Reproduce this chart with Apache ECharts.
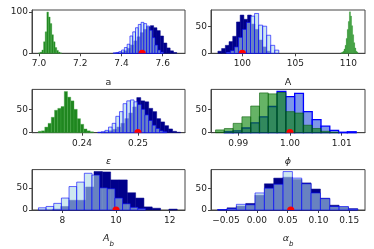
<!DOCTYPE html>
<html><head><meta charset="utf-8">
<script src="https://cdn.jsdelivr.net/npm/echarts@6/dist/echarts.min.js"></script>
<style>html,body{margin:0;padding:0;background:#fff}#c{width:374px;height:249px}</style>
</head><body><div id="c"></div>
<script>
// ---- data: histogram bins (start, width, counts) ----
const aGreenStart = 6.998, aGreenWidth = 0.008;
const aGreenCounts = [1,3,8,28,52,100,88,72,45,28,14,7,3,1];
const aNavyStart = 7.38, aNavyWidth = 0.016;
const aNavyCounts = [1,3,6,12,20,30,40,50,58,64,67,62,55,42,25,13,6,2];
const aLightStart = 7.36, aLightWidth = 0.0135;
const aLightCounts = [1,2,4,8,14,22,42,52,62,70,75,72,66,56,38,20,8,3];
const aTrue = 7.5;

const AGreenStart = 109.3, AGreenWidth = 0.1;
const AGreenCounts = [1,2,4,8,15,28,45,60,78,70,52,35,20,10,4,2];
const ANavyStart = 97.7, ANavyWidth = 0.35;
const ANavyCounts = [4,9,15,22,32,59,72,64,72,55,45,25,12,4];
const ALightStart = 98.5, ALightWidth = 0.38;
const ALightCounts = [2,5,12,30,45,58,70,75,53,51,34,15,6];
const ATrue = 100;

const epsGreenStart = 0.2322, epsGreenWidth = 0.00058;
const epsGreenCounts = [3,4,12,20,33,48,52,56,88,76,68,50,30,18,8,4,2];
const epsNavyStart = 0.2434, epsNavyWidth = 0.00071;
const epsNavyCounts = [1,2,4,7,12,20,30,42,55,75,68,66,52,45,30,23,15,8,3,1];
const epsLightStart = 0.2428, epsLightWidth = 0.00065;
const epsLightCounts = [1,2,5,12,20,35,45,62,68,70,66,60,50,38,26,16,9,4,2];
const epsTrue = 0.25;

const phiGreenStart = 0.9856, phiGreenWidth = 0.0017;
const phiGreenCounts = [6,9,20,34,57,85,83,86,45,42,16,9,3,1];
const phiBlueStart = 0.9873, phiBlueWidth = 0.0017;
const phiBlueCounts = [2,4,10,21,34,56,88,77,84,45,28,14,5,1,2];
const phiTrue = 1.0;

const AbLightStart = 7.11, AbLightWidth = 0.285;
const AbLightCounts = [5,8,15,27,53,63,83,79,50,48,27,14,6,3];
const AbNavyStart = 7.63, AbNavyWidth = 0.31;
const AbNavyCounts = [2,8,22,22,52,87,86,68,68,39,27,7,4,0,2];
const AbTrue = 10;

const alphaStart = -0.0635, alphaWidth = 0.01515;
const alphaNavyCounts = [1,5,9,15,34,60,73,75,70,62,48,27,11,7,3];
const alphaLightCounts = [1,3,13,12,39,50,59,88,73,60,39,26,8,8,2];
const alphaTrue = 0.055;

// ---- tick labels ----
const aTicks = [7.0, 7.2, 7.4, 7.6];
const ATicks = [100, 105, 110];
const epsTicks = [0.24, 0.25];
const phiTicks = [0.99, 1.00, 1.01];
const AbTicks = [8, 10, 12];
const alphaTicks = [-0.05, 0.00, 0.05, 0.10, 0.15];
const yTicks100 = [0, 100];
const yTicks50 = [0, 50];
const axisNames = ['{r|a}', '{r|A}', '{i|ε}', '{i|ϕ}', '{i|A}{s|b}', '{i|α}{s|b}'];

// ---- styles ----
const FONT = 'DejaVu Sans';
const NAVY = {fill:'#00008b', stroke:'#00008b', lw:0.5};
const LIGHT = {fill:'rgba(173,216,230,0.6)', stroke:'rgba(0,0,255,0.6)', lw:1};
const GREEN = {fill:'#1f861f', stroke:'rgba(70,170,70,0.9)', lw:0.4};
const PHIBLUE = {fill:'rgba(75,110,225,0.72)', stroke:'#0000ff', lw:1.3};
const PHIGREEN = {fill:'rgba(0,128,0,0.6)', stroke:'rgba(0,90,0,0.7)', lw:0.8};

const panels = [
  {xr:[6.966,7.708], ymax:105, xt:aTicks, yt:yTicks100, dec:1, truth:aTrue,
   h:[[aNavyStart,aNavyWidth,aNavyCounts,NAVY,2],[aLightStart,aLightWidth,aLightCounts,LIGHT,3],[aGreenStart,aGreenWidth,aGreenCounts,GREEN,2]]},
  {xr:[97.05,111.57], ymax:81.5, xt:ATicks, yt:yTicks50, dec:0, truth:ATrue,
   h:[[ANavyStart,ANavyWidth,ANavyCounts,NAVY,2],[ALightStart,ALightWidth,ALightCounts,LIGHT,3],[AGreenStart,AGreenWidth,AGreenCounts,GREEN,2]]},
  {xr:[0.23108,0.2584], ymax:92.5, xt:epsTicks, yt:yTicks50, dec:2, truth:epsTrue,
   h:[[epsNavyStart,epsNavyWidth,epsNavyCounts,NAVY,2],[epsLightStart,epsLightWidth,epsLightCounts,LIGHT,3],[epsGreenStart,epsGreenWidth,epsGreenCounts,GREEN,2]]},
  {xr:[0.98472,1.01451], ymax:92.5, xt:phiTicks, yt:yTicks50, dec:2, truth:phiTrue,
   h:[[phiBlueStart,phiBlueWidth,phiBlueCounts,PHIBLUE,2],[phiGreenStart,phiGreenWidth,phiGreenCounts,PHIGREEN,3]]},
  {xr:[6.87,12.57], ymax:91.3, xt:AbTicks, yt:yTicks50, dec:0, truth:AbTrue,
   h:[[AbNavyStart,AbNavyWidth,AbNavyCounts,NAVY,2],[AbLightStart,AbLightWidth,AbLightCounts,LIGHT,3]]},
  {xr:[-0.0744,0.1755], ymax:92.5, xt:alphaTicks, yt:yTicks50, dec:2, truth:alphaTrue,
   h:[[alphaStart,alphaWidth,alphaNavyCounts,NAVY,2],[alphaStart,alphaWidth,alphaLightCounts,LIGHT,3]]}
];

const gridPos = [
  {left:32, top:10, width:153, height:43.3},
  {left:211, top:10, width:154, height:43.3},
  {left:32, top:89.4, width:153, height:43.3},
  {left:211, top:89.4, width:154, height:43.3},
  {left:32, top:169.6, width:153, height:43},
  {left:211, top:169.6, width:154, height:43}
];

const txt = {fontFamily:FONT, color:'#222'};
const grids = [], xAxes = [], yAxes = [], series = [];
panels.forEach((p, gi) => {
  grids.push(Object.assign({show:true, borderColor:'#444', borderWidth:1, backgroundColor:'transparent', containLabel:false}, gridPos[gi]));
  const fmt = v => Number(v).toFixed(p.dec).replace('-', '\u2212');
  xAxes.push({type:'value', gridIndex:gi, min:p.xr[0], max:p.xr[1],
    name: axisNames[gi], nameLocation:'middle', nameGap:24, nameMoveOverlap:false,
    nameTextStyle:{fontFamily:FONT, color:'#222', width:80, overflow:'none', align:'center', rich:{
      r:{fontFamily:FONT, fontSize:9.5, color:'#222', lineHeight:14, verticalAlign:'top'},
      i:{fontFamily:FONT, fontSize:9.5, fontStyle:'italic', color:'#222', lineHeight:14, verticalAlign:'top'},
      s:{fontFamily:FONT, fontSize:7, fontStyle:'italic', color:'#222', lineHeight:12, verticalAlign:'bottom'}}},
    axisLine:{show:true, onZero:false, lineStyle:{color:'#444', width:1}},
    axisTick:{show:true, length:3, customValues:p.xt, lineStyle:{color:'#444'}},
    axisLabel:Object.assign({fontSize:9, margin:6, customValues:p.xt, formatter:fmt}, txt),
    splitLine:{show:false}});
  yAxes.push({type:'value', gridIndex:gi, min:0, max:p.ymax,
    axisLine:{show:true, onZero:false, lineStyle:{color:'#444', width:1}},
    axisTick:{show:true, length:3, customValues:p.yt, lineStyle:{color:'#444'}},
    axisLabel:Object.assign({fontSize:9, margin:4, customValues:p.yt}, txt),
    splitLine:{show:false}});
  p.h.forEach(([start, width, counts, st, z]) => {
    const data = [];
    counts.forEach((c, i) => { if (c > 0) data.push([start + i * width, start + (i + 1) * width, c]); });
    series.push({type:'custom', xAxisIndex:gi, yAxisIndex:gi, z:z, silent:true,
      data:data, encode:{x:[0,1], y:2},
      renderItem:(params, api) => {
        const p0 = api.coord([api.value(0), api.value(2)]);
        const p1 = api.coord([api.value(1), 0]);
        return {type:'rect', shape:{x:p0[0], y:p0[1], width:p1[0]-p0[0], height:p1[1]-p0[1]},
          style:{fill:st.fill, stroke:st.stroke, lineWidth:st.lw}};
      }});
  });
  // true value marker: red dot at y=0, clipped by the axes (upper half visible)
  series.push({type:'custom', xAxisIndex:gi, yAxisIndex:gi, z:6, silent:true,
    data:[[p.truth, 0]], encode:{x:0, y:1},
    renderItem:(params, api) => {
      const c = api.coord([api.value(0), api.value(1)]);
      return {type:'sector', shape:{cx:c[0], cy:c[1], r0:0, r:3.6, startAngle:Math.PI, endAngle:2*Math.PI, clockwise:true},
        style:{fill:'#ff0000'}};
    }});
});

const chart = echarts.init(document.getElementById('c'), null, {renderer:'canvas'});
chart.setOption({animation:false, backgroundColor:'#fff', grid:grids, xAxis:xAxes, yAxis:yAxes, series:series});
</script></body></html>
